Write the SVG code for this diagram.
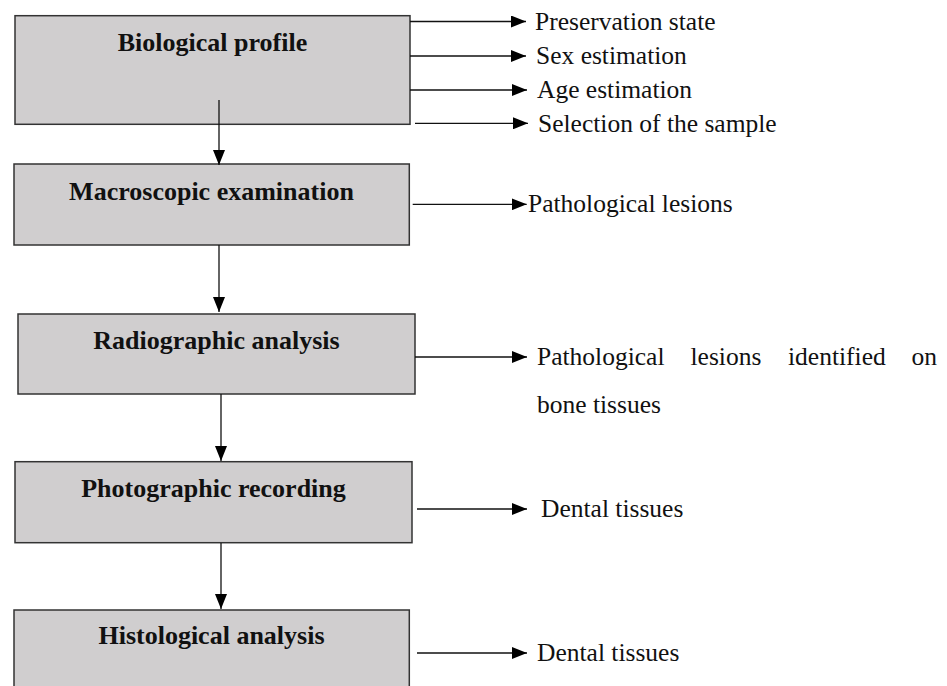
<svg xmlns="http://www.w3.org/2000/svg" width="947" height="686" viewBox="0 0 947 686">
<style>
.box{fill:#d0cecf;stroke:#333;stroke-width:1.5}
.title{font-family:"Liberation Serif","Times New Roman",serif;font-weight:bold;font-size:26px;fill:#111;text-anchor:middle}
.lbl{font-family:"Liberation Serif","Times New Roman",serif;font-size:25.5px;fill:#111}
.con{stroke:#111;stroke-width:1.3;fill:none;marker-end:url(#ah)}
</style>
<defs>
<marker id="ah" viewBox="0 0 15 12" refX="15" refY="6" markerWidth="15" markerHeight="12" markerUnits="userSpaceOnUse" orient="auto">
<path d="M0,0 L15,6 L0,12 Z" fill="#000"/>
</marker>
</defs>
<rect width="947" height="686" fill="#fff"/>
<g id="node-biological">
<rect class="box" x="15" y="15.7" width="395" height="108.6"/>
<text class="title" x="212.5" y="51">Biological profile</text>
</g>
<g id="node-macroscopic">
<rect class="box" x="14" y="164" width="395.3" height="81"/>
<text class="title" x="211.5" y="200">Macroscopic examination</text>
</g>
<g id="node-radiographic">
<rect class="box" x="18" y="314" width="397" height="80"/>
<text class="title" x="216.5" y="349">Radiographic analysis</text>
</g>
<g id="node-photographic">
<rect class="box" x="15" y="461.7" width="397" height="81"/>
<text class="title" x="213.5" y="497">Photographic recording</text>
</g>
<g id="node-histological">
<rect class="box" x="14" y="610" width="395.3" height="90"/>
<text class="title" x="211.5" y="644">Histological analysis</text>
</g>
<g id="connectors">
<line class="con" x1="219" y1="100" x2="219" y2="165"/>
<line class="con" x1="219" y1="245" x2="219" y2="312"/>
<line class="con" x1="221" y1="394" x2="221" y2="461"/>
<line class="con" x1="221" y1="543" x2="221" y2="609"/>
<line class="con" x1="410" y1="21.5" x2="526" y2="21.5"/>
<line class="con" x1="410" y1="56" x2="526" y2="56"/>
<line class="con" x1="410" y1="90" x2="527" y2="90"/>
<line class="con" x1="415" y1="123.3" x2="528" y2="123.3"/>
<line class="con" x1="412.7" y1="204.3" x2="526.7" y2="204.3"/>
<line class="con" x1="415" y1="357" x2="527" y2="357"/>
<line class="con" x1="417" y1="509" x2="527" y2="509"/>
<line class="con" x1="417" y1="653" x2="527" y2="653"/>
</g>
<g id="labels">
<text class="lbl" x="535" y="29.5">Preservation state</text>
<text class="lbl" x="536" y="64">Sex estimation</text>
<text class="lbl" x="537" y="98">Age estimation</text>
<text class="lbl" x="538" y="131.5">Selection of the sample</text>
<text class="lbl" x="528" y="212">Pathological lesions</text>
<text class="lbl" x="537" y="365">Pathological</text>
<text class="lbl" x="690.5" y="365">lesions</text>
<text class="lbl" x="788" y="365">identified</text>
<text class="lbl" x="937" y="365" text-anchor="end">on</text>
<text class="lbl" x="537" y="413">bone tissues</text>
<text class="lbl" x="541" y="517">Dental tissues</text>
<text class="lbl" x="537" y="661">Dental tissues</text>
</g>
</svg>
